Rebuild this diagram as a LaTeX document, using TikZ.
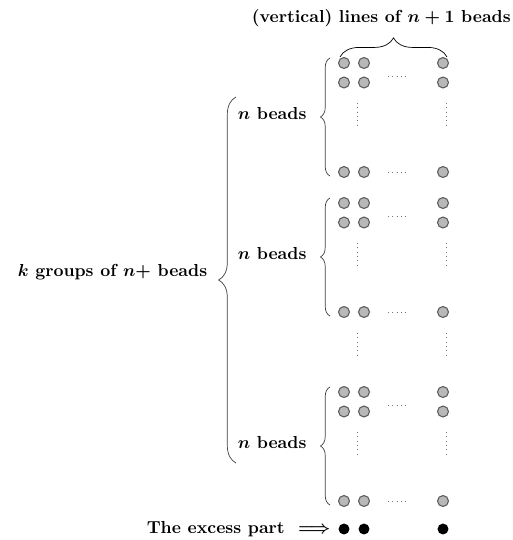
\documentclass[tikz,border=0pt]{standalone}
\usepackage{amsmath}
\usetikzlibrary{decorations.pathreplacing,positioning}

\begin{document}
\begin{tikzpicture}[x=0.575pt,y=-0.575pt,font=\bfseries\boldmath,
	every node/.append style={text=black},
	bead/.style={circle,draw=black!65,fill=black!28,line width=0.6pt,minimum size=6.3pt,inner sep=0pt},
	excessbead/.style={circle,fill=black,minimum size=6.3pt,inner sep=0pt},
	dots/.style={dotted,black!55,line width=0.5pt},
	grpbrace/.style={decoration={brace,amplitude=5.5pt},decorate,black!75},
	bigbrace/.style={decoration={brace,amplitude=10pt},decorate,black!75},
	topbrace/.style={decoration={brace,amplitude=11pt},decorate,black}]
	\useasboundingbox (0,0) rectangle (513,540);
							% the k groups, three rows of beads drawn in each
							\foreach \y [count=\g] in {63,203,392} {
								\foreach \x [count=\c] in {344,364,443} {
									\node[bead] (B\g-1-\c) at (\x,\y) {};
									\node[bead] (B\g-2-\c) at (\x,\y+19.5) {};
									\node[bead] (B\g-3-\c) at (\x,\y+109) {};
								}
								\draw[dots] (388,\y+13) -- (406,\y+13);
								\draw[dots] (388,\y+109) -- (406,\y+109);
								\draw[dots] (357,\y+40) -- (357,\y+64);
								\draw[dots] (446,\y+40) -- (446,\y+64);
								\draw[grpbrace] (330,\y+113) -- node[left=10pt,yshift=2pt] (L\g) {$n$ beads} (330,\y-5);
							}
							\draw[dots] (357,333) -- (357,355);
							\draw[dots] (446,333) -- (446,355);

							\draw[topbrace] (340,57) -- node[above=14pt,xshift=-7pt] (T) {(vertical) lines of $n+1$ beads} (447,57);
							\draw[bigbrace] (236,463) -- node[left=13pt,yshift=4.5pt] (K) {$k$ groups of $n+$ beads} (236,97);

							% the excess part
							\foreach \x [count=\c] in {344,364,443}
								\node[excessbead] (E\c) at (\x,529) {};
							\node[left=1pt of E1] (X) {The excess part\ \ $\Longrightarrow$};
\end{tikzpicture}
\end{document}
